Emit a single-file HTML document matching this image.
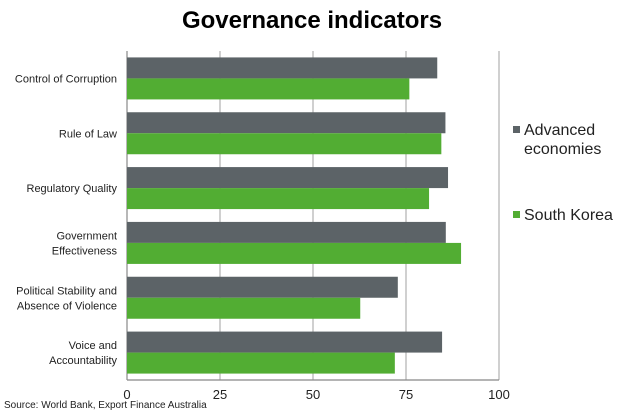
<!DOCTYPE html>
<html><head><meta charset="utf-8"><style>
html,body{margin:0;padding:0;background:#fff;}
body{width:625px;height:414px;overflow:hidden;font-family:"Liberation Sans",Arial,sans-serif;}
</style></head><body>
<svg id="chart" width="625" height="414" xmlns="http://www.w3.org/2000/svg">
<text x="312" y="28" text-anchor="middle" font-size="24" font-weight="bold" fill="#000">Governance indicators</text>
<g id="grid"></g>
<g id="bars"></g>
<g id="ylabels"></g>
<g id="xlabels"></g>
<g>
<g>
<rect x="513" y="126" width="7" height="7" fill="#5c6367"/>
<text x="524" y="135" font-size="16" fill="#222">Advanced</text>
<text x="524" y="154" font-size="16" fill="#222">economies</text>
</g>
<g>
<rect x="513" y="211" width="7" height="7" fill="#52ad33"/>
<text x="524" y="220" font-size="16" fill="#222">South Korea</text>
</g>
</g>
<text x="4" y="408" font-size="10" fill="#222">Source: World Bank, Export Finance Australia</text>
</svg>
<script>
const categories = [["Control of Corruption"],["Rule of Law"],["Regulatory Quality"],["Government","Effectiveness"],["Political Stability and","Absence of Violence"],["Voice and","Accountability"]];
const advanced = [83.4, 85.6, 86.3, 85.7, 72.8, 84.7];
const southKorea = [75.9, 84.5, 81.2, 89.8, 62.7, 72.0];
const xTicks = [0, 25, 50, 75, 100];

const NS = "http://www.w3.org/2000/svg";
const X0 = 127, X1 = 499, YT = 51, YB = 380;
const band = (YB - YT) / categories.length;
const barH = 21;
function xs(v){ return X0 + (X1 - X0) * v / 100; }
function mk(tag, attrs, parent){ const e = document.createElementNS(NS, tag); for (const k in attrs) e.setAttribute(k, attrs[k]); parent.appendChild(e); return e; }

const grid = document.getElementById('grid');
const xl = document.getElementById('xlabels');
xTicks.forEach(t => {
  const l = mk('line', {x1: xs(t), x2: xs(t), y1: YT, y2: YB, stroke: t === 0 ? '#888' : '#b0b0b0', 'stroke-width': 1.2}, grid);
  
  
  const tx = mk('text', {x: xs(t), y: 399, 'text-anchor': 'middle', 'font-size': 13, fill: '#222'}, xl);
  tx.textContent = t;
  
  
});
const ax = mk('line', {x1: X0, x2: X1, y1: YB, y2: YB, stroke: '#888', 'stroke-width': 1.2}, grid);



const bars = document.getElementById('bars');
const yl = document.getElementById('ylabels');
categories.forEach((c, i) => {
  const top = YT + i * band + (band - 2 * barH) / 2;
  const a = mk('rect', {x: X0, y: top, width: xs(advanced[i]) - X0, height: barH, fill: '#5c6367'}, bars);
  
  
  const s = mk('rect', {x: X0, y: top + barH, width: xs(southKorea[i]) - X0, height: barH, fill: '#52ad33'}, bars);
  
  
  const cy = YT + i * band + band / 2;
  c.forEach((line, j) => {
    const t = mk('text', {x: 117, y: cy + 4 + (j - (c.length - 1) / 2) * 15, 'text-anchor': 'end', 'font-size': 11, fill: '#222'}, yl);
    t.textContent = line;
    
    
  });
});
</script>
</body></html>
